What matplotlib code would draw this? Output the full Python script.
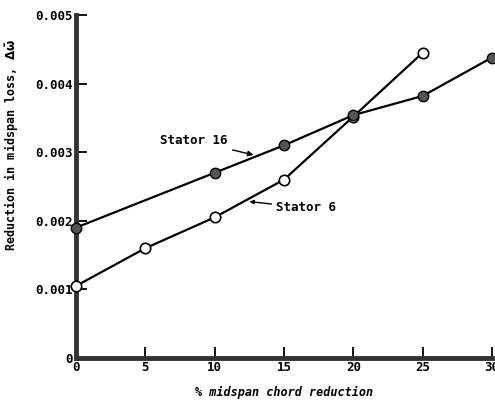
import matplotlib.pyplot as plt

chord_reduction = [0, 5, 10, 15, 20, 25, 30]

# Stator 16 (filled symbols)
s16_x = [0, 10, 15, 20, 25, 30]
s16_y = [0.0019, 0.0027, 0.0031, 0.00354, 0.00382, 0.00438]

# Stator 6 (open symbols)
s6_x = [0, 5, 10, 15, 20, 25]
s6_y = [0.00105, 0.0016, 0.00205, 0.0026, 0.00352, 0.00445]

y_ticks = [0, 0.001, 0.002, 0.003, 0.004, 0.005]
y_labels = ['0', '0.001', '0.002', '0.003', '0.004', '0.005']


def main():
    plt.rcParams['font.family'] = 'DejaVu Sans Mono'
    plt.rcParams['font.weight'] = 'bold'
    plt.rcParams['mathtext.default'] = 'bf'

    fig = plt.figure(figsize=(4.95, 4.04), dpi=100)
    ax = fig.add_axes([0.1535, 0.1139, 0.8405, 0.849])

    # open symbols first so the filled ones sit on top where they overlap
    ax.plot(s6_x, s6_y, color='black', lw=1.6, marker='o', ms=7.5,
            mfc='white', mec='black', mew=1.2, clip_on=False, zorder=3)
    ax.plot(s16_x, s16_y, color='black', lw=1.6, marker='o', ms=7.5,
            mfc='#555555', mec='black', mew=1.0, clip_on=False, zorder=4)

    ax.set_xlim(0, 30)
    ax.set_ylim(0, 0.005)
    ax.set_xticks(chord_reduction)
    ax.set_xticklabels([str(v) for v in chord_reduction], fontsize=9,
                       fontweight='bold')
    ax.set_yticks(y_ticks)
    ax.set_yticklabels(y_labels, fontsize=9, fontweight='bold')
    ax.tick_params(direction='in', length=8, width=1.3, pad=2)

    for side in ['top', 'right']:
        ax.spines[side].set_visible(False)
    for side in ['left', 'bottom']:
        ax.spines[side].set_linewidth(3.5)
        ax.spines[side].set_color('#333333')

    ax.set_xlabel('% midspan chord reduction', fontsize=8.5, style='italic',
                  fontweight='bold', labelpad=9)
    ax.set_ylabel(r'Reduction in midspan loss, $\Delta\bar{\omega}$',
                  fontsize=8.5, fontweight='bold')
    ax.yaxis.set_label_coords(-0.135, 0.62)

    ax.annotate('Stator 16', xy=(12.8, 0.00296), xytext=(10.9, 0.00317),
                fontsize=9, fontweight='bold', ha='right', va='center',
                arrowprops=dict(arrowstyle='-|>', color='black', lw=1.0,
                                mutation_scale=8, shrinkA=2, shrinkB=0))
    ax.annotate('Stator 6', xy=(12.5, 0.00228), xytext=(14.4, 0.00219),
                fontsize=9, fontweight='bold', ha='left', va='center',
                arrowprops=dict(arrowstyle='-|>', color='black', lw=1.0,
                                mutation_scale=6, shrinkA=1, shrinkB=0))

    fig.savefig('out.png', dpi=100)


if __name__ == '__main__':
    main()
